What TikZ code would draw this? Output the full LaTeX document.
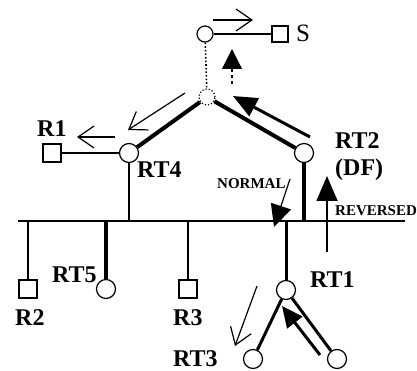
\documentclass[tikz,border=0pt]{standalone}
\usepackage{fontspec}
\setmainfont{Liberation Serif}
\usetikzlibrary{arrows.meta}
\begin{document}
\begin{tikzpicture}[x=1pt,y=-1pt,
  rtr/.style={circle,draw,line width=1.2pt,minimum size=19pt,inner sep=0pt,fill=white},
  hostbox/.style={rectangle,draw,line width=1.2pt,minimum size=18pt,inner sep=0pt,fill=white},
  lbl/.style={font=\fontsize{24}{26}\selectfont\bfseries,inner sep=0pt,anchor=base west},
  sml/.style={font=\fontsize{15}{16}\selectfont\bfseries,inner sep=0pt,anchor=base west},
  thinln/.style={line width=1.2pt},
  heavyln/.style={line width=4pt},
  medln/.style={line width=3pt},
  openarr/.style={-{Straight Barb[length=16pt,width=22pt]}, line width=1.2pt},
]
\useasboundingbox (0,0) rectangle (417,371);

% nodes
\node[rtr,minimum size=16pt] (top) at (205,34) {};
\node[hostbox,minimum size=16pt] (s) at (280,34) {};
\node[rtr,minimum size=16pt,dotted] (ctr) at (207,97) {};
\node[rtr] (rt4) at (129,153) {};
\node[hostbox] (r1) at (52,153) {};
\node[rtr] (rt2) at (304,153) {};
\node[hostbox] (r2) at (28,289) {};
\node[rtr] (rt5) at (106,289) {};
\node[hostbox] (r3) at (188,289) {};
\node[rtr] (rt1) at (286,290) {};
\node[rtr] (rt3) at (253,359) {};
\node[rtr] (rt6) at (337,359) {};

% bus and drops
\coordinate (bl) at (18,221);
\coordinate (br) at (405,221);
\coordinate (br2) at (28,221);
\coordinate (brt5) at (106,221);
\coordinate (brt4) at (129,221);
\coordinate (br3) at (188,221);
\coordinate (brt1) at (286,221);
\coordinate (brt2) at (304,221);
\draw[line width=2pt] (bl) -- (br);
\draw[thinln] (r2) -- (br2);
\draw[line width=3.5pt] (rt5) -- (brt5);
\draw[thinln] (rt4) -- (brt4);
\draw[thinln] (r3) -- (br3);
\draw[medln] (rt1) -- (brt1);
\draw[line width=3.5pt] (rt2) -- (brt2);

% links
\draw[thinln] (top) -- (s);
\draw[line width=1.6pt,dotted] (top) -- (ctr);
\draw[heavyln] (ctr) -- (rt4);
\draw[heavyln] (ctr) -- (rt2);
\draw[thinln] (rt4) -- (r1);
\draw[medln] (rt1) -- (rt3);
\draw[medln] (rt1) -- (rt6);

% arrows
\coordinate (sa1) at (213,20); \coordinate (sa2) at (253,20);
\draw[openarr] (sa1) -- (sa2);
\coordinate (ua0) at (232,84); \coordinate (ua1) at (232,70); \coordinate (ua2) at (232,49);
\draw[line width=1.4pt,dashed] (ua0) -- (ua1);
\draw[thinln,-{Triangle[length=20pt,width=20pt]}] (ua1) -- (ua2);
\coordinate (ra1) at (310,137); \coordinate (ra2) at (233,96);
\draw[medln,-{Triangle[length=24pt,width=20pt]}] (ra1) -- (ra2);
\coordinate (la1) at (185,93); \coordinate (la2) at (128,130);
\draw[openarr] (la1) -- (la2);
\coordinate (r1a1) at (115,137); \coordinate (r1a2) at (77,137);
\draw[openarr] (r1a1) -- (r1a2);
\coordinate (na1) at (290,179); \coordinate (na2) at (274,227);
\draw[thinln,-{Triangle[length=22pt,width=21pt]}] (na1) -- (na2);
\coordinate (va1) at (327,252); \coordinate (va2) at (327,176);
\draw[line width=1.6pt,-{Triangle[length=25pt,width=21pt]}] (va1) -- (va2);
\coordinate (da1) at (257,286); \coordinate (da2) at (235,346);
\draw[openarr] (da1) -- (da2);
\coordinate (ka1) at (320,355); \coordinate (ka2) at (282,306);
\draw[medln,-{Triangle[length=21pt,width=19pt]}] (ka1) -- (ka2);

% labels
\node[font=\fontsize{25}{27}\selectfont,inner sep=0pt,anchor=base west] (ls) at (296,42) {S};
\node[lbl] (lr1) at (37,137) {R1};
\node[lbl] (lrt4) at (137,178) {RT4};
\node[lbl] (lrt2) at (335,149) {RT2};
\node[lbl] (ldf) at (335,176) {(DF)};
\node[sml] (lnorm) at (217,189) {NORMAL};
\node[sml] (lrev) at (335,215) {REVERSED};
\node[lbl] (lrt1) at (310,287) {RT1};
\node[lbl] (lrt5) at (52,282) {RT5};
\node[lbl] (lr2) at (15,325) {R2};
\node[lbl] (lr3) at (173,325) {R3};
\node[lbl] (lrt3) at (173,366) {RT3};
\end{tikzpicture}
\end{document}
